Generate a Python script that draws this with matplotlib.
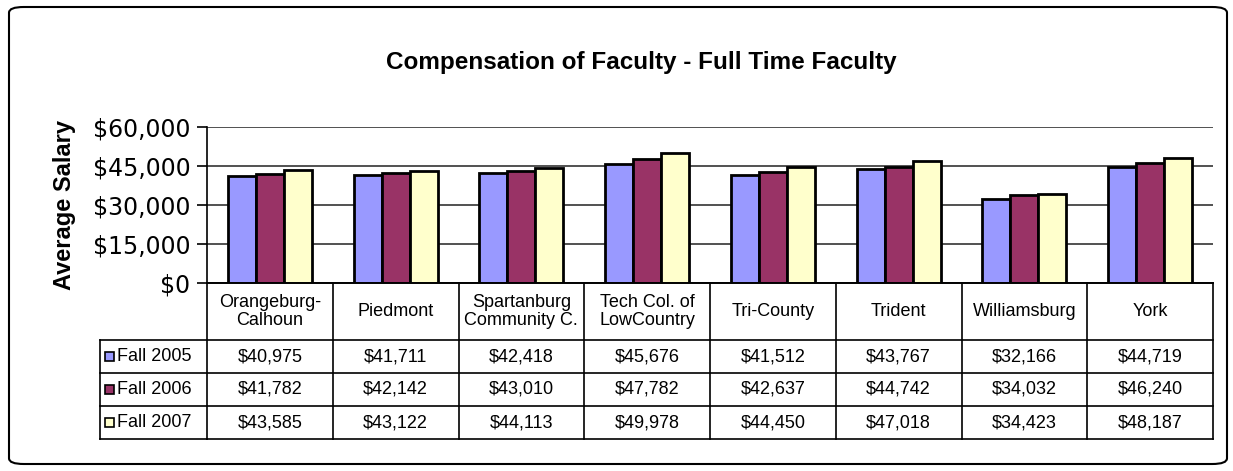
import matplotlib.pyplot as plt
from matplotlib.patches import FancyBboxPatch, Rectangle
import numpy as np

# data
colleges = ['Orangeburg-\nCalhoun', 'Piedmont', 'Spartanburg\nCommunity C.', 'Tech Col. of\nLowCountry',
            'Tri-County', 'Trident', 'Williamsburg', 'York']
series = ['Fall 2005', 'Fall 2006', 'Fall 2007']
fall_2005 = [40975, 41711, 42418, 45676, 41512, 43767, 32166, 44719]
fall_2006 = [41782, 42142, 43010, 47782, 42637, 44742, 34032, 46240]
fall_2007 = [43585, 43122, 44113, 49978, 44450, 47018, 34423, 48187]
colors = ['#9999FF', '#993366', '#FFFFCC']

W, H = 1233, 471
fig = plt.figure(figsize=(W / 100, H / 100), dpi=100)
fig.patch.set_facecolor('white')

# outer rounded border
fig.patches.append(FancyBboxPatch((9 / W, 7 / H), 1218 / W, 457 / H,
                                  boxstyle='round,pad=0,rounding_size=0.012',
                                  transform=fig.transFigure, fill=False,
                                  edgecolor='black', linewidth=1.5))

x0, x1 = 207, 1213
ytop, ybot = 127, 283
ax = fig.add_axes([x0 / W, 1 - ybot / H, (x1 - x0) / W, (ybot - ytop) / H])

x = np.arange(len(colleges))
bw = 0.223
for k, (vals, c) in enumerate(zip([fall_2005, fall_2006, fall_2007], colors)):
    ax.bar(x + (k - 1) * bw, vals, bw, color=c, edgecolor='black', linewidth=2, zorder=3)

ax.set_xlim(-0.5, len(colleges) - 0.5)
ax.set_ylim(0, 60000)
ax.set_yticks(range(0, 60001, 15000))
ax.set_yticklabels([f'${v:,}' for v in range(0, 60001, 15000)], fontsize=17, family='DejaVu Sans')
ax.yaxis.grid(True, color='#333333', linewidth=1.2, zorder=0)
ax.set_xticks([])
for s in ['top', 'right']:
    ax.spines[s].set_visible(False)
ax.spines['left'].set_linewidth(1.2)
ax.spines['bottom'].set_linewidth(1.2)
ax.tick_params(axis='y', length=7, width=1.2, pad=5)
ax.set_ylabel('Average Salary', fontsize=17, fontweight='bold', family='Liberation Sans', labelpad=12)

fig.text(641 / W, 1 - 62 / H, 'Compensation of Faculty - Full Time Faculty',
         ha='center', va='center', fontsize=17.5, fontweight='bold', family='Liberation Sans')

# data table below the plot
hdr, rh = 57, 33
tb_h = hdr + 3 * rh
tax = fig.add_axes([x0 / W, 1 - (ybot + tb_h) / H, (x1 - x0) / W, tb_h / H])
tax.set_xlim(-0.5, len(colleges) - 0.5)
tax.set_ylim(tb_h, 0)
tax.axis('off')
colw = (x1 - x0) / len(colleges)
lab_left = -0.5 - (x0 - 100) / colw
lk = dict(color='black', linewidth=1.2, clip_on=False)

tax.plot([-0.5, 7.5], [0, 0], **lk)
tax.plot([-0.5, 7.5], [tb_h, tb_h], **lk)
for i in range(len(colleges) + 1):
    tax.plot([i - 0.5, i - 0.5], [0, tb_h], **lk)
for r in range(3):
    yy = hdr + r * rh
    tax.plot([lab_left, 7.5], [yy, yy], **lk)
tax.plot([lab_left, lab_left], [hdr, tb_h], **lk)
tax.plot([lab_left, -0.5], [tb_h, tb_h], **lk)

for i, name in enumerate(colleges):
    tax.text(i, hdr / 2, name, ha='center', va='center', fontsize=13,
             family='Liberation Sans', linespacing=1.05)

for r, (name, vals, c) in enumerate(zip(series, [fall_2005, fall_2006, fall_2007], colors)):
    yc = hdr + r * rh + rh / 2
    tax.add_patch(Rectangle((lab_left + 5 / colw, yc - 4.5), 9 / colw, 9,
                            facecolor=c, edgecolor='black', linewidth=1.2, clip_on=False))
    tax.text(lab_left + 17 / colw, yc, name, ha='left', va='center', fontsize=13,
             family='Liberation Sans')
    for i, v in enumerate(vals):
        tax.text(i, yc, f'${v:,}', ha='center', va='center', fontsize=13,
                 family='Liberation Sans')

plt.savefig('out.png', dpi=100)
